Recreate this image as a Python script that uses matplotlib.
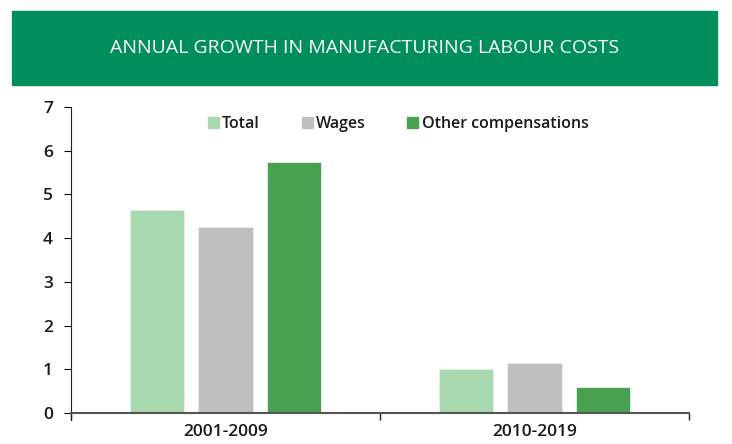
import numpy as np
import matplotlib
matplotlib.use('Agg')
import matplotlib.pyplot as plt
from matplotlib.patches import Rectangle, Patch

periodos = ['2001-2009', '2010-2019']
series = ['Total', 'Wages', 'Other compensations']
total = [4.65, 1.0]
wages = [4.26, 1.15]
outras = [5.74, 0.6]
cores = ['#a8d9ae', '#bfbfbf', '#47a151']

plt.rcParams['font.family'] = ['Open Sans', 'DejaVu Sans']

fig = plt.figure(figsize=(7.32, 4.44), dpi=100)
ax = fig.add_axes([71/732, 1 - 413/444, 618/732, 306/444])

# faixa verde do titulo
fig.patches.append(Rectangle((12/732, 1 - 85/444), 705/732, 74/444,
                             transform=fig.transFigure, color='#008f5a', zorder=0))
fig.text(365/732, 1 - 48/444, 'ANNUAL GROWTH IN MANUFACTURING LABOUR COSTS',
         color='white', fontsize=14, ha='center', va='center')

x = np.arange(len(periodos))
larg = 0.175
passo = 0.222
for i, (vals, cor) in enumerate(zip([total, wages, outras], cores)):
    ax.bar(x + (i - 1) * passo, vals, larg, color=cor, edgecolor='#e6f2e6',
           linewidth=0.6, zorder=2)

ax.set_xlim(-0.5, 1.5)
ax.set_ylim(0, 7)
ax.set_yticks(range(0, 8))
ax.set_xticks(x)
ax.set_xticklabels(periodos)
ax.set_xticks([-0.5, 0.5, 1.5], minor=True)
ax.tick_params(axis='x', which='major', length=0, pad=8, labelsize=12.5)
ax.tick_params(axis='x', which='minor', length=5, width=1, color='#222222')
ax.tick_params(axis='y', length=5, width=0.8, labelsize=12.5, pad=8)
for lab in ax.get_xticklabels() + ax.get_yticklabels():
    lab.set_fontweight('semibold')
    lab.set_color('#1a1a1a')

ax.spines['top'].set_visible(False)
ax.spines['right'].set_visible(False)
ax.spines['left'].set_color('#222222')
ax.spines['left'].set_linewidth(0.8)
ax.spines['bottom'].set_color('#555555')
ax.spines['bottom'].set_linewidth(1.5)
ax.spines['left'].set_bounds(-0.15, 7)

handles = [Patch(color=c, label=s) for c, s in zip(cores, series)]
leg = ax.legend(handles=handles, loc='center', bbox_to_anchor=((398 - 71)/618, 1 - 17/306),
                ncol=3, frameon=False, handlelength=0.7, handleheight=0.7,
                handletextpad=0.2, columnspacing=2.6, fontsize=11.5)
for t in leg.get_texts():
    t.set_fontweight('semibold')
    t.set_color('#1a1a1a')

plt.savefig('out.png', dpi=100)
